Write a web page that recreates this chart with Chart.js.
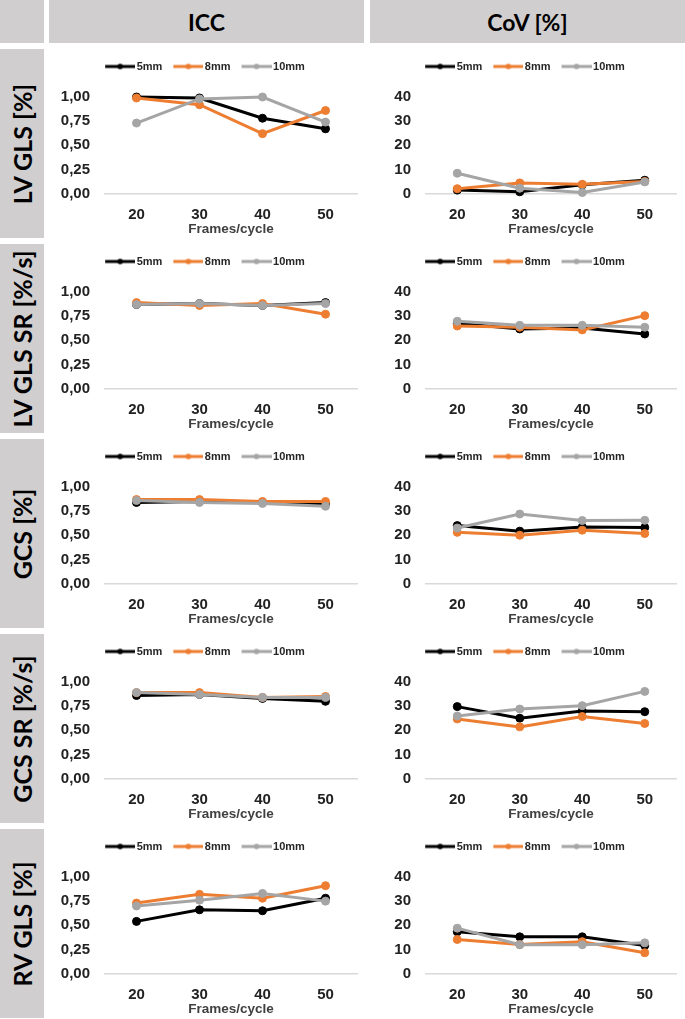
<!DOCTYPE html>
<html>
<head>
<meta charset="utf-8">
<script src="https://cdn.jsdelivr.net/npm/chart.js@4.4.1/dist/chart.umd.min.js"></script>
<style>
  html, body { margin: 0; padding: 0; background: #fff; }
  body { width: 685px; height: 1019px; position: relative; overflow: hidden; }
  .box { position: absolute; background: #d0cece; }
  .head { display: flex; align-items: center; justify-content: center;
          font-family: Lato, 'Open Sans', sans-serif; font-weight: 700; font-size: 23px; color: #000; }
  .side span { position: absolute; left: 50%; top: 50%; white-space: nowrap;
               transform: translate(-50%, -50%) rotate(-90deg);
               font-family: Lato, 'Open Sans', sans-serif; font-weight: 700; font-size: 25px; color: #000; }
  .cell { position: absolute; }
</style>
</head>
<body>
<div class="box" style="left:0;top:0;width:44px;height:43px"></div>
<div class="box head" style="left:49px;top:0;width:315px;height:43px">ICC</div>
<div class="box head" style="left:370px;top:0;width:315px;height:43px">CoV [%]</div>
<div id="grid"></div>

<script>
const frames = ['20', '30', '40', '50'];
const sizes = ['5mm', '8mm', '10mm'];
const colors = ['#000000', '#ED7D31', '#A5A5A5'];
const rowLabels = ['LV GLS [%]', 'LV GLS SR [%/s]', 'GCS [%]', 'GCS SR [%/s]', 'RV GLS [%]'];
const iccTicks = [0, 0.25, 0.5, 0.75, 1];
const covTicks = [0, 10, 20, 30, 40];

// ICC values, one array per slice thickness: 5mm, 8mm, 10mm
const iccLvGls   = [[1.00, 0.99, 0.78, 0.67], [0.99, 0.92, 0.62, 0.86], [0.73, 0.98, 1.00, 0.74]];
const iccLvGlsSr = [[0.87, 0.88, 0.86, 0.89], [0.89, 0.86, 0.88, 0.77], [0.87, 0.88, 0.86, 0.88]];
const iccGcs     = [[0.84, 0.85, 0.84, 0.82], [0.87, 0.87, 0.85, 0.85], [0.86, 0.84, 0.83, 0.80]];
const iccGcsSr   = [[0.86, 0.87, 0.83, 0.80], [0.89, 0.89, 0.84, 0.85], [0.89, 0.87, 0.84, 0.84]];
const iccRvGls   = [[0.54, 0.66, 0.65, 0.78], [0.73, 0.82, 0.78, 0.91], [0.70, 0.76, 0.83, 0.75]];

// CoV [%] values
const covLvGls   = [[1.4, 0.7, 3.6, 5.5], [2.0, 4.4, 3.8, 5.0], [8.4, 2.2, 0.4, 4.8]];
const covLvGlsSr = [[27.0, 24.7, 25.1, 22.6], [25.9, 25.4, 24.3, 30.2], [27.9, 26.2, 26.2, 25.4]];
const covGcs     = [[24.0, 21.7, 23.4, 23.2], [21.2, 20.0, 22.1, 20.7], [23.0, 28.8, 26.1, 26.2]];
const covGcsSr   = [[29.8, 25.0, 28.0, 27.7], [24.7, 21.4, 25.7, 22.8], [25.9, 28.8, 30.2, 36.1]];
const covRvGls   = [[17.3, 15.2, 15.2, 11.6], [14.1, 12.0, 13.2, 8.6], [18.8, 11.9, 11.9, 12.7]];

const iccRows = [iccLvGls, iccLvGlsSr, iccGcs, iccGcsSr, iccRvGls];
const covRows = [covLvGls, covLvGlsSr, covGcs, covGcsSr, covRvGls];

const FONT = "'Liberation Sans', Arial, sans-serif";

// line-with-dot image for the legend (drawn a bit right of the box centre so the text sits close)
function legendMark(color) {
  const c = document.createElement('canvas');
  c.width = 38; c.height = 10;
  const g = c.getContext('2d');
  g.strokeStyle = color; g.lineWidth = 3;
  g.beginPath(); g.moveTo(8, 5); g.lineTo(38, 5); g.stroke();
  g.fillStyle = color;
  g.beginPath(); g.arc(23, 5, 2.8, 0, Math.PI * 2); g.fill();
  return c;
}
const marks = colors.map(legendMark);

// fixed legend block so every plot starts at the same height
const legendHeight = {
  id: 'legendHeight',
  beforeInit(chart) {
    const fit = chart.legend.fit;
    chart.legend.fit = function () { fit.call(this); this.height = 43; };
  }
};

function makeChart(canvas, rows, ticks, isIcc, rightPad) {
  const step = ticks[1] - ticks[0];
  new Chart(canvas, {
    type: 'line',
    data: {
      labels: frames,
      datasets: rows.map((vals, i) => ({
        label: sizes[i],
        data: vals,
        borderColor: colors[i],
        backgroundColor: colors[i],
        pointBackgroundColor: colors[i],
        pointBorderColor: colors[i],
        borderWidth: 3,
        pointRadius: 4,
        pointBorderWidth: 1,
        tension: 0,
        clip: false,
        order: rows.length - i
      }))
    },
    options: {
      responsive: true,
      maintainAspectRatio: false,
      animation: false,
      layout: { padding: { top: 5, right: rightPad, bottom: 2, left: 0 } },
      plugins: {
        tooltip: { enabled: false },
        legend: {
          position: 'top',
          labels: {
            usePointStyle: true,
            pointStyleWidth: 30,
            padding: 7,
            color: '#262626',
            font: { family: FONT, size: 11, weight: 'bold' },
            generateLabels: chart => chart.data.datasets.map((ds, i) => ({
              text: ds.label,
              pointStyle: marks[i],
              fillStyle: ds.borderColor,
              strokeStyle: ds.borderColor,
              lineWidth: 0,
              hidden: false,
              datasetIndex: i,
              fontColor: '#262626'
            }))
          }
        }
      },
      scales: {
        x: {
          offset: true,
          grid: { display: false, drawTicks: false },
          border: { display: true, color: '#d9d9d9', width: 1.5 },
          ticks: { color: '#222', padding: 12, font: { family: FONT, size: 15, weight: 'bold' } },
          title: {
            display: true, text: 'Frames/cycle', color: '#404040',
            padding: { top: -13, bottom: 0 },
            font: { family: FONT, size: 13.5, weight: 'bold', lineHeight: 1 }
          }
        },
        y: {
          min: ticks[0],
          max: ticks[ticks.length - 1],
          grid: { display: false, drawTicks: false },
          border: { display: false },
          afterFit: scale => { scale.width = 56; },
          ticks: {
            stepSize: step,
            padding: 15,
            color: '#222',
            font: { family: FONT, size: 15, weight: 'bold' },
            callback: v => isIcc ? v.toFixed(2).replace('.', ',') : String(v)
          }
        }
      }
    },
    plugins: [legendHeight]
  });
}

const grid = document.getElementById('grid');
rowLabels.forEach((label, r) => {
  const top = 49 + r * 195;
  const side = document.createElement('div');
  side.className = 'box side';
  side.style.cssText = `left:0;top:${top}px;width:44px;height:189px`;
  side.innerHTML = `<span>${label}</span>`;
  grid.appendChild(side);

  const left = document.createElement('div');
  left.className = 'cell';
  left.style.cssText = `left:49px;top:${top}px;width:313px;height:189px`;
  left.innerHTML = '<canvas></canvas>';
  grid.appendChild(left);

  const right = document.createElement('div');
  right.className = 'cell';
  right.style.cssText = `left:370px;top:${top}px;width:315px;height:189px`;
  right.innerHTML = '<canvas></canvas>';
  grid.appendChild(right);

  makeChart(left.querySelector('canvas'), iccRows[r], iccTicks, true, 5);
  makeChart(right.querySelector('canvas'), covRows[r], covTicks, false, 9);
});
</script>
</body>
</html>
